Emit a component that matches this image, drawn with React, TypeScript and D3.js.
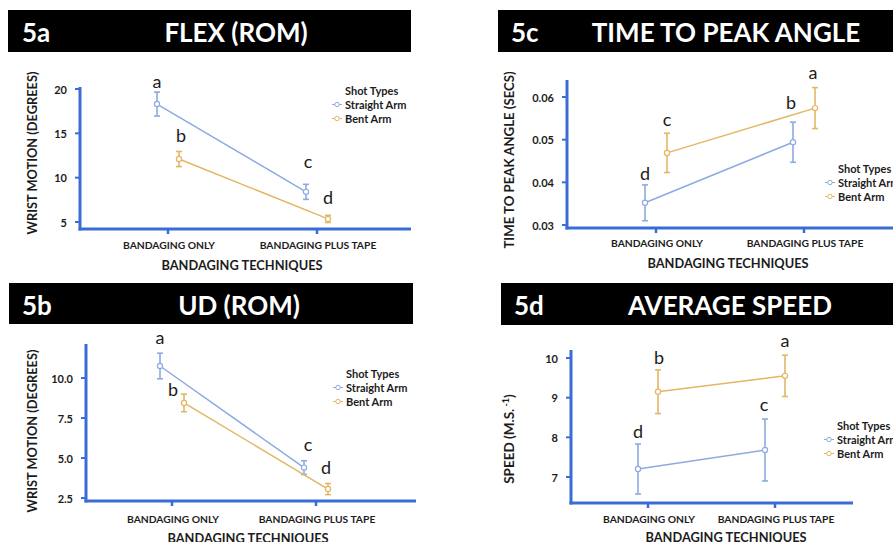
import React from 'react';
import * as d3 from 'd3';

// shared categories / series
const categories = ['BANDAGING ONLY', 'BANDAGING PLUS TAPE'];
const seriesNames = ['Straight Arm', 'Bent Arm'];

// 5a FLEX (ROM)
const flexStraight = [18.3, 8.4];
const flexStraightErr = [1.35, 0.85];
const flexBent = [12.1, 5.35];
const flexBentErr = [0.85, 0.4];
const flexTicks = [5, 10, 15, 20];
const flexLetters = [['a', 'c'], ['b', 'd']];

// 5b UD (ROM)
const udStraight = [10.75, 4.4];
const udStraightErr = [0.8, 0.43];
const udBent = [8.44, 3.06];
const udBentErr = [0.55, 0.35];
const udTicks = [2.5, 5.0, 7.5, 10.0];
const udLetters = [['a', 'c'], ['b', 'd']];

// 5c TIME TO PEAK ANGLE
const tpaStraight = [0.0352, 0.0494];
const tpaStraightErr = [0.0042, 0.0047];
const tpaBent = [0.0469, 0.0574];
const tpaBentErr = [0.0046, 0.0048];
const tpaTicks = [0.03, 0.04, 0.05, 0.06];
const tpaLetters = [['d', 'b'], ['c', 'a']];

// 5d AVERAGE SPEED
const spdStraight = [7.2, 7.68];
const spdStraightErr = [0.63, 0.78];
const spdBent = [9.15, 9.55];
const spdBentErr = [0.55, 0.52];
const spdTicks = [7, 8, 9, 10];
const spdLetters = [['d', 'c'], ['b', 'a']];

const BLUE = '#8eaae0';
const ORANGE = '#e4b664';
const AXIS = '#3a6cd6';
const INK = '#1c1c1c';
const FONT = 'Lato, "Open Sans", sans-serif';

interface PanelCfg {
  id: string;
  title: string;
  ylabel: React.ReactNode;
  ylabelSize: number;
  values: number[][];
  errs: number[][];
  letters: string[][];
  ticks: number[];
  fmt: (v: number) => string;
  header: { x: number; y: number; w: number; h: number; idX: number; titleX: number };
  axisX: number;
  axisEnd: number;
  base: number;
  top: number;
  tickDomain: [number, number];
  tickRange: [number, number];
  cats: [number, number];
  dodge: number;
  legend: { x: number; y: number };
  ylabelX: number;
  ylabelY: number;
  catY: number;
  titleY: number;
  titleCx: number;
  // letter nudges: [series][cat] => [dx, gap above the error cap]
  nudge: number[][][];
}

const panels: PanelCfg[] = [
  {
    id: '5a', title: 'FLEX (ROM)', ylabel: 'WRIST MOTION (DEGREES)', ylabelSize: 12.8,
    values: [flexStraight, flexBent], errs: [flexStraightErr, flexBentErr], letters: flexLetters,
    ticks: flexTicks, fmt: d3.format('d'),
    header: { x: 8, y: 10, w: 403, h: 42, idX: 22, titleX: 236 },
    axisX: 80, axisEnd: 411, base: 229, top: 87,
    tickDomain: [5, 20], tickRange: [222, 89], cats: [168, 317], dodge: 11,
    legend: { x: 337, y: 90 }, ylabelX: 32, ylabelY: 153, catY: 245, titleY: 265, titleCx: 242,
    nudge: [[[0, 4], [2, 16]], [[2, 10], [0, 11]]],
  },
  {
    id: '5b', title: 'UD (ROM)', ylabel: 'WRIST MOTION (DEGREES)', ylabelSize: 12.8,
    values: [udStraight, udBent], errs: [udStraightErr, udBentErr], letters: udLetters,
    ticks: udTicks, fmt: d3.format('.1f'),
    header: { x: 9, y: 283, w: 404, h: 41, idX: 22, titleX: 239 },
    axisX: 86, axisEnd: 416, base: 501, top: 344,
    tickDomain: [2.5, 10], tickRange: [498, 378], cats: [172, 316], dodge: 12,
    legend: { x: 338, y: 373 }, ylabelX: 32, ylabelY: 431, catY: 519, titleY: 538, titleCx: 248,
    nudge: [[[0, 9], [4, 10]], [[-11, -2], [-2, 9]]],
  },
  {
    id: '5c', title: 'TIME TO PEAK ANGLE', ylabel: 'TIME TO PEAK ANGLE (SECS)', ylabelSize: 13.2,
    values: [tpaStraight, tpaBent], errs: [tpaStraightErr, tpaBentErr], letters: tpaLetters,
    ticks: tpaTicks, fmt: d3.format('.2f'),
    header: { x: 498, y: 10, w: 400, h: 42, idX: 511, titleX: 726 },
    axisX: 567, axisEnd: 900, base: 228, top: 80,
    tickDomain: [0.03, 0.06], tickRange: [225, 97], cats: [656, 804], dodge: 11,
    legend: { x: 830, y: 168 }, ylabelX: 509, ylabelY: 160, catY: 243, titleY: 263, titleCx: 728,
    nudge: [[[0, 5], [-2, 13]], [[0, 7], [-2, 9]]],
  },
  {
    id: '5d', title: 'AVERAGE SPEED', ylabelSize: 13.5,
    ylabel: (
      <>
        SPEED (M.S.<tspan dy={-4} fontSize={9}> -1</tspan><tspan dy={4}>)</tspan>
      </>
    ),
    values: [spdStraight, spdBent], errs: [spdStraightErr, spdBentErr], letters: spdLetters,
    ticks: spdTicks, fmt: d3.format('d'),
    header: { x: 501, y: 283, w: 400, h: 42, idX: 514, titleX: 730 },
    axisX: 571, axisEnd: 853, base: 503, top: 350,
    tickDomain: [7, 10], tickRange: [477, 358], cats: [648, 775], dodge: 10,
    legend: { x: 829, y: 425 }, ylabelX: 509, ylabelY: 439, catY: 519, titleY: 537, titleCx: 726,
    nudge: [[[0, 6], [-1, 8]], [[1, 6], [0, 8]]],
  },
];

const colors = [BLUE, ORANGE];

const Panel: React.FC<{ p: PanelCfg }> = ({ p }) => {
  const y = d3.scaleLinear().domain(p.tickDomain).range(p.tickRange);
  const x = d3.scalePoint<string>().domain(categories).range(p.cats);
  const off = [-p.dodge, p.dodge];
  const line = d3.line<[number, number]>().x((d) => d[0]).y((d) => d[1]);
  const h = p.header;

  return (
    <g fontFamily={FONT}>
      {/* header bar */}
      <rect x={h.x} y={h.y} width={h.w} height={h.h} fill="#000" />
      <text x={h.idX} y={h.y + h.h / 2 + 1} dominantBaseline="central" fill="#fff" fontSize={26} fontWeight={700}>{p.id}</text>
      <text x={h.titleX} y={h.y + h.h / 2 + 1} dominantBaseline="central" textAnchor="middle" fill="#fff" fontSize={26} fontWeight={700}>{p.title}</text>

      {/* series */}
      {p.values.map((vals, s) => {
        const pts: [number, number][] = vals.map((v, i) => [(x(categories[i]) || 0) + off[s], y(v)]);
        return (
          <g key={s}>
            <path d={line(pts) || ''} fill="none" stroke={colors[s]} strokeWidth={1.5} />
            {vals.map((v, i) => {
              const cx = pts[i][0];
              const hi = y(v + p.errs[s][i]);
              const lo = y(v - p.errs[s][i]);
              const [dx, gap] = p.nudge[s][i];
              return (
                <g key={i}>
                  <line x1={cx} x2={cx} y1={hi} y2={lo} stroke={colors[s]} strokeWidth={1.6} />
                  <line x1={cx - 3} x2={cx + 3} y1={hi} y2={hi} stroke={colors[s]} strokeWidth={1.6} />
                  <line x1={cx - 3} x2={cx + 3} y1={lo} y2={lo} stroke={colors[s]} strokeWidth={1.6} />
                  <circle cx={cx} cy={pts[i][1]} r={2.6} fill="#fff" stroke={colors[s]} strokeWidth={1.2} />
                  <text x={cx + dx} y={hi - gap} textAnchor="middle" fontSize={18} fill={INK}>{p.letters[s][i]}</text>
                </g>
              );
            })}
          </g>
        );
      })}

      {/* axes */}
      <line x1={p.axisX} x2={p.axisX} y1={p.top} y2={p.base + 1.5} stroke={AXIS} strokeWidth={3} />
      <line x1={p.axisX - 1.5} x2={p.axisEnd} y1={p.base} y2={p.base} stroke={AXIS} strokeWidth={3} />
      {p.ticks.map((t) => (
        <g key={t}>
          <line x1={p.axisX - 5} x2={p.axisX} y1={y(t)} y2={y(t)} stroke={AXIS} strokeWidth={2} />
          <text x={p.axisX - 13} y={y(t)} dominantBaseline="central" textAnchor="end" fontSize={11} fontWeight={700} fill={INK}>{p.fmt(t)}</text>
        </g>
      ))}
      {categories.map((c) => (
        <g key={c}>
          <line x1={x(c) || 0} x2={x(c) || 0} y1={p.base} y2={p.base + 5} stroke={AXIS} strokeWidth={2.5} />
          <text x={(x(c) || 0) + 1} y={p.catY} dominantBaseline="central" textAnchor="middle" fontSize={10.3} fontWeight={700} fill={INK}>{c}</text>
        </g>
      ))}
      <text x={p.titleCx} y={p.titleY} dominantBaseline="central" textAnchor="middle" fontSize={12.8} fontWeight={700} fill={INK}>BANDAGING TECHNIQUES</text>
      <text transform={`translate(${p.ylabelX},${p.ylabelY}) rotate(-90)`} dominantBaseline="central" textAnchor="middle" fontSize={p.ylabelSize} fontWeight={700} fill={INK}>{p.ylabel}</text>

      {/* legend */}
      <text x={p.legend.x + 8} y={p.legend.y} dominantBaseline="central" fontSize={11} fontWeight={700} fill={INK}>Shot Types</text>
      {seriesNames.map((n, s) => {
        const ly = p.legend.y + 14.5 + s * 14;
        return (
          <g key={n}>
            <line x1={p.legend.x - 5} x2={p.legend.x + 5} y1={ly} y2={ly} stroke={colors[s]} strokeWidth={1} />
            <circle cx={p.legend.x} cy={ly} r={2.2} fill="#fff" stroke={colors[s]} strokeWidth={1} />
            <text x={p.legend.x + 8} y={ly} dominantBaseline="central" fontSize={11} fontWeight={700} fill={INK}>{n}</text>
          </g>
        );
      })}
    </g>
  );
};

export default function App() {
  return (
    <div style={{ position: 'absolute', left: 0, top: 0, width: 893, height: 542, overflow: 'hidden', background: '#fff' }}>
      <svg width={893} height={542}>
        <rect width={893} height={542} fill="#fff" />
        {panels.map((p) => (
          <Panel key={p.id} p={p} />
        ))}
      </svg>
    </div>
  );
}
